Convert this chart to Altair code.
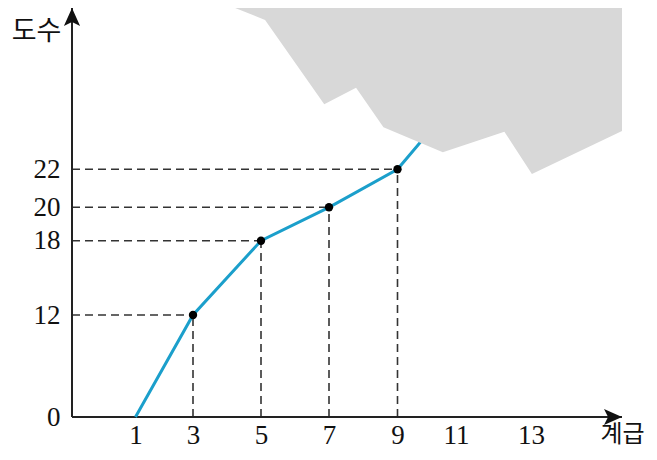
import altair as alt
import pandas as pd

# ---- data ----
classes = [1, 3, 5, 7, 9]            # 계급 (class marks on the polygon)
cum_freq = [0, 12, 18, 20, 22]       # 도수 (cumulative frequency)
hidden_x = [10.45]                   # continuation of the polygon under the grey patch
hidden_y = [27.6]
marked_x = [3, 5, 7, 9]
marked_y = [12, 18, 20, 22]
x_ticks = [1, 3, 5, 7, 9, 11, 13]
y_ticks = [0, 12, 18, 20, 22]
patch_x = [4.24, 5.12, 6.86, 7.79, 8.59, 10.55, 12.29, 13.02, 15]
patch_y = [40, 38.66, 29.25, 31.1, 26.69, 23.9, 26.2, 21.75, 26.27]
x_end = 15
y_end = 40

# ---- layout (the figure is a schematic: axes are piecewise linear) ----
W, H = 577, 409
x_scale = alt.Scale(domain=[0, 1, 3, 5, 7, 9, 11, 13, 15],
                    range=[0, 63.5, 121, 189, 257, 325.5, 384, 459, 550],
                    nice=False, zero=False)
y_scale = alt.Scale(domain=[0, 12, 18, 20, 22, 40],
                    range=[409, 307, 232.7, 199.3, 161.3, 0],
                    nice=False, zero=False)

SERIF = "Liberation Serif"
KOR = "Noto Sans CJK KR"

x_axis = alt.Axis(values=x_ticks, domain=False, ticks=False, tickSize=0, grid=False,
                  labelFont=SERIF, labelFontSize=27, labelColor="#111111",
                  labelPadding=5, labelAngle=0, labelFlush=False, labelOverlap=False,
                  title="계급", titleX=550, titleY=17, titleAlign="center",
                  titleBaseline="middle", titleAngle=0, titleFont=KOR,
                  titleFontSize=24, titleFontWeight="normal", titleColor="#111111")
y_axis = alt.Axis(values=y_ticks, domain=False, ticks=False, tickSize=0, grid=False,
                  labelFont=SERIF, labelFontSize=27, labelColor="#111111",
                  labelPadding=12, labelFlush=False, labelOverlap=False,
                  title="도수", titleX=-36, titleY=23, titleAlign="center",
                  titleBaseline="middle", titleAngle=0, titleFont=KOR,
                  titleFontSize=27, titleFontWeight="normal", titleColor="#111111")

def X(field):
    return alt.X(field, type="quantitative", scale=x_scale, axis=x_axis)

def Y(field):
    return alt.Y(field, type="quantitative", scale=y_scale, axis=y_axis)

# polygon data
poly = pd.DataFrame({"x": classes + hidden_x, "y": cum_freq + hidden_y})
pts = pd.DataFrame({"x": marked_x, "y": marked_y})

# dashed guides: horizontal from the y axis, vertical down to the x axis
guides = pd.DataFrame({
    "x": [0] * len(marked_x) + marked_x,
    "x2": marked_x + marked_x,
    "y": marked_y + [0] * len(marked_y),
    "y2": marked_y + marked_y,
})

axes_df = pd.DataFrame({"x": [0, 0], "x2": [0, x_end], "y": [0, 0], "y2": [y_end, 0]})
patch = pd.DataFrame({"x": patch_x, "y": patch_y})
arrow_up = pd.DataFrame({"x": [0], "y": [y_end]})
arrow_right = pd.DataFrame({"x": [x_end], "y": [0]})

guide_layer = alt.Chart(guides).mark_rule(
    color="#333333", strokeWidth=1.6, strokeDash=[8, 5]
).encode(x=X("x"), x2="x2", y=Y("y"), y2="y2")

axes_layer = alt.Chart(axes_df).mark_rule(color="#222222", strokeWidth=2).encode(
    x=X("x"), x2="x2", y=Y("y"), y2="y2")

line_layer = alt.Chart(poly).mark_line(color="#1b9fcb", strokeWidth=3).encode(
    x=X("x"), y=Y("y"))

point_layer = alt.Chart(pts).mark_point(
    filled=True, color="#000000", opacity=1, size=70, shape="circle"
).encode(x=X("x"), y=Y("y"))

patch_layer = alt.Chart(patch).mark_area(color="#d8d8d8", opacity=1).encode(
    x=X("x"), y=Y("y"), y2=alt.datum(y_end))

up_layer = alt.Chart(arrow_up).mark_point(
    shape="M0,-1L0.9,1L0,0.55L-0.9,1Z", filled=True, color="#111111",
    opacity=1, size=324, yOffset=9
).encode(x=X("x"), y=Y("y"))

right_layer = alt.Chart(arrow_right).mark_point(
    shape="M1,0L-1,0.9L-0.55,0L-1,-0.9Z", filled=True, color="#111111",
    opacity=1, size=324, xOffset=-9
).encode(x=X("x"), y=Y("y"))

chart = alt.layer(
    guide_layer, axes_layer, line_layer, point_layer, patch_layer, up_layer, right_layer
).properties(
    width=W, height=H, autosize="none",
    padding={"left": 64, "top": 0, "right": 0, "bottom": 31},
    background="white",
).configure_view(stroke=None)

chart.save("out.html", embed_options={"renderer": "svg", "actions": False})
